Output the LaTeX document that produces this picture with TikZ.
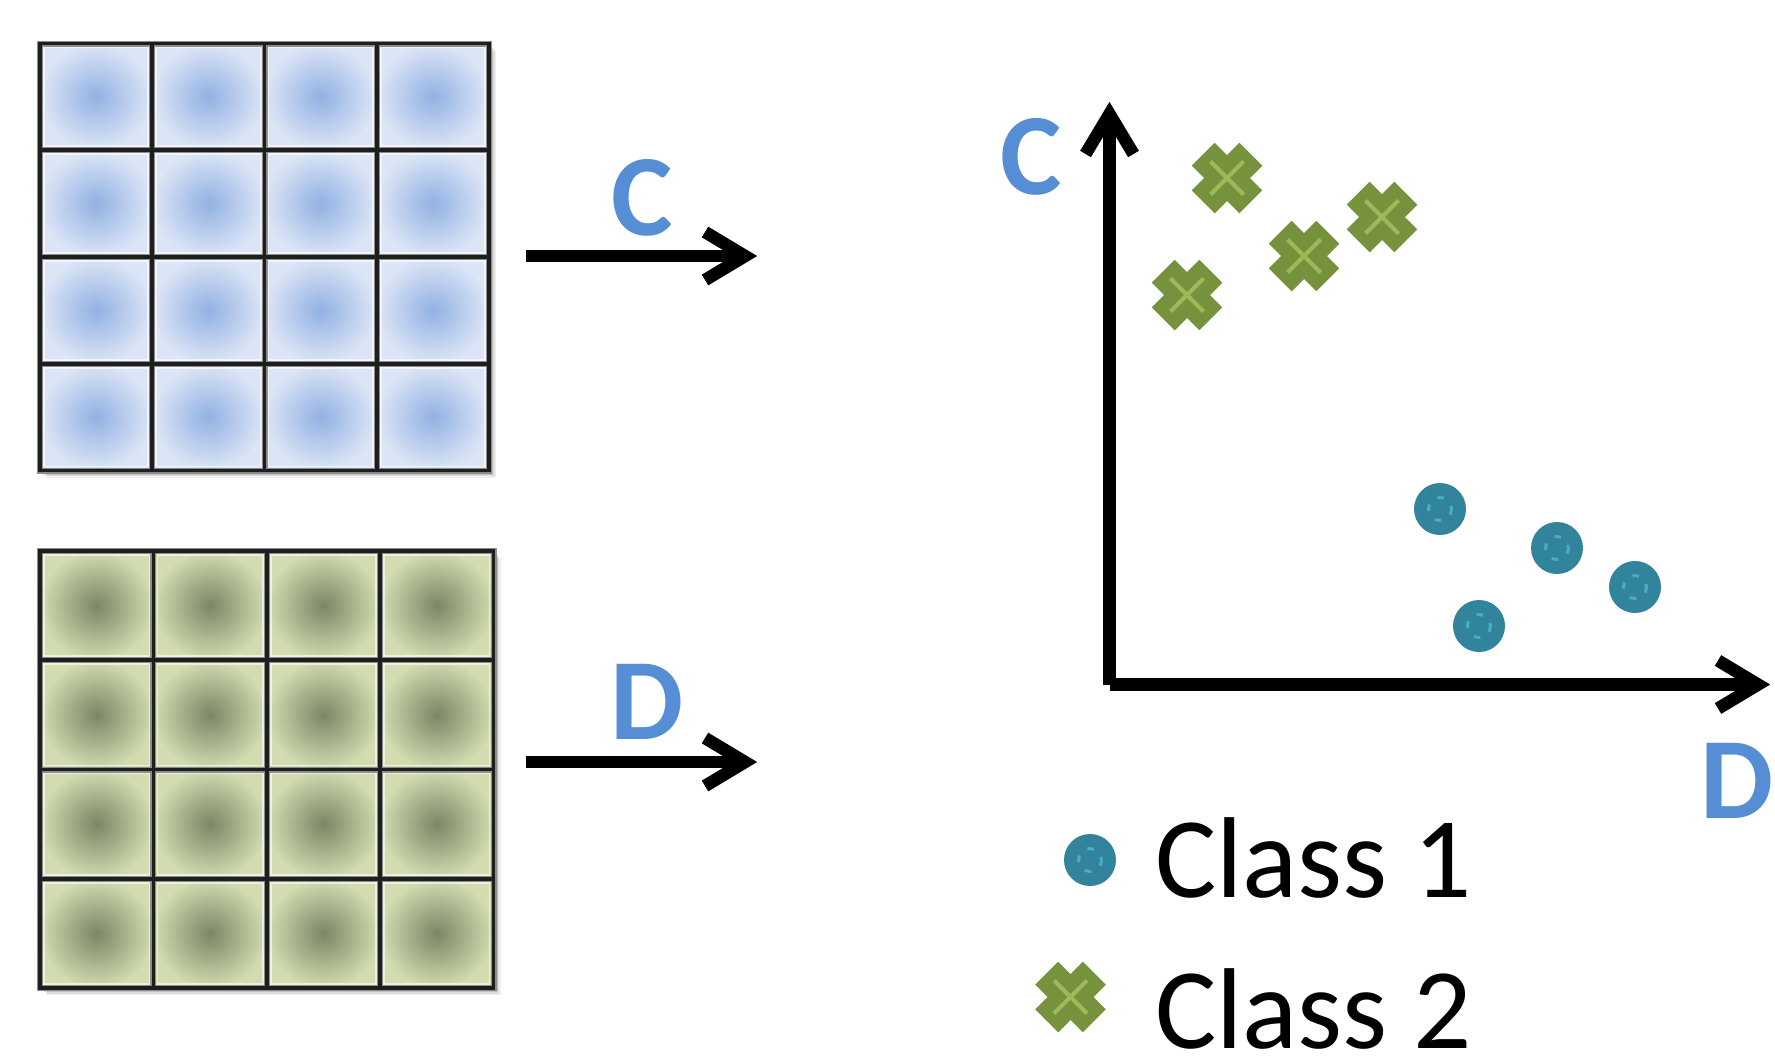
\documentclass[tikz,border=0pt]{standalone}
\usepackage{fontspec}
\setmainfont{Carlito}
\usetikzlibrary{calc}

\definecolor{cellblueC}{HTML}{92B1E2}
\definecolor{cellblueE}{HTML}{DCE5F6}
\definecolor{cellgreenC}{HTML}{7A8666}
\definecolor{cellgreenE}{HTML}{D2DCB0}
\definecolor{labelblue}{HTML}{558ED5}
\definecolor{crossdark}{HTML}{76923C}
\definecolor{crosslight}{HTML}{9BBB59}
\definecolor{dotdark}{HTML}{31849B}
\definecolor{dotlight}{HTML}{4BACC6}
\definecolor{gridline}{HTML}{1E1E1E}

\tikzset{
  axlabel/.style={inner sep=0pt, text=labelblue,
    font=\fontsize{116}{120}\selectfont\bfseries},
  legtext/.style={inner sep=0pt, anchor=base west,
    font=\fontsize{115}{120}\selectfont},
  shaft/.style={line width=12.5pt, line cap=butt},
  barb/.style={line width=12.5pt, line cap=butt, line join=miter},
  cellline/.style={gridline, line width=3.6pt},
  cellhalo/.style={black!45, line width=6pt},
  classtwo/.pic={
    \draw[crossdark, line width=32.5pt] (-23.8,-23.8) -- (23.8,23.8);
    \draw[crossdark, line width=32.5pt] (-23.8,23.8) -- (23.8,-23.8);
    \draw[crosslight, line width=4pt] (-16.5,-16.5) -- (16.5,16.5);
    \draw[crosslight, line width=4pt] (-16.5,16.5) -- (16.5,-16.5);
  },
  classone/.pic={
    \fill[dotdark] (0,0) circle[radius=26pt];
    \draw[dotlight, line width=3pt, dash pattern=on 6.5pt off 10.78pt,
          dash phase=3.25pt] (0,0) circle[radius=11.5pt];
  }
}

% one 4x4 shaded grid: #1 left, #2 top, #3 cell width, #4 cell height,
% #5 centre colour, #6 edge colour
\newcommand{\cellgrid}[6]{%
  % soft drop shadow
  \foreach \o/\a in {7/0.06,5.5/0.08,4/0.12}{
    \fill[black, opacity=\a] (#1+\o,#2+\o) rectangle ++(4*#3,4*#4);
  }
  \foreach \i in {0,...,3}{
    \foreach \j in {0,...,3}{
      \shade[inner color=#5, outer color=#6]
        (#1+\i*#3, #2+\j*#4) rectangle ++(#3,#4);
      \draw[white, opacity=.6, line width=1.6pt]
        (#1+\i*#3+4, #2+\j*#4+4) rectangle ++(#3-8,#4-8);
    }
  }
  \foreach \k in {1,2,3}{
    \draw[cellhalo] (#1+\k*#3, #2) -- ++(0,4*#4);
    \draw[cellhalo] (#1, #2+\k*#4) -- ++(4*#3,0);
  }
  \draw[cellhalo] (#1,#2) rectangle ++(4*#3,4*#4);
  \foreach \k in {1,2,3}{
    \draw[cellline] (#1+\k*#3, #2) -- ++(0,4*#4);
    \draw[cellline] (#1, #2+\k*#4) -- ++(4*#3,0);
  }
  \draw[cellline] (#1,#2) rectangle ++(4*#3,4*#4);
}

\begin{document}
\begin{tikzpicture}[x=1pt, y=-1pt]
  \path[use as bounding box, fill=white] (0,0) rectangle (1775,1061);

  % input maps
  \cellgrid{40}{43.5}{112.25}{106.75}{cellblueC}{cellblueE}
  \cellgrid{40}{551}{113.4}{109.25}{cellgreenC}{cellgreenE}

  % feature arrows
  \coordinate (cfrom) at (526,256);
  \coordinate (cto) at (745,256);
  \coordinate (dfrom) at (526,762);
  \coordinate (dto) at (745,762);
  \draw[shaft] (cfrom) -- (cto);
  \draw[barb] ($(cto)+(-40,-24)$) -- (cto) -- ($(cto)+(-40,24)$);
  \draw[shaft] (dfrom) -- (dto);
  \draw[barb] ($(dto)+(-40,-24)$) -- (dto) -- ($(dto)+(-40,24)$);
  \node[axlabel] (clab) at (642,197.5) {C};
  \node[axlabel] (dlab) at (647,702) {D};

  % feature space axes
  \coordinate (yfoot) at (1109.5,684.5);
  \coordinate (ytop) at (1109.5,114);
  \coordinate (xfoot) at (1109.5,684.5);
  \coordinate (xend) at (1758,684.5);
  \draw[shaft] (yfoot) -- (ytop);
  \draw[barb] ($(ytop)+(-24,40)$) -- (ytop) -- ($(ytop)+(24,40)$);
  \draw[shaft] (xfoot) -- (xend);
  \draw[barb] ($(xend)+(-40,-24)$) -- (xend) -- ($(xend)+(-40,24)$);
  \node[axlabel] (cax) at (1031.5,156.5) {C};
  \node[axlabel] (dax) at (1737.5,780.5) {D};

  % class 2 samples
  \pic at (1227,178) {classtwo};
  \pic at (1304,256) {classtwo};
  \pic at (1382,217) {classtwo};
  \pic at (1187,295) {classtwo};

  % class 1 samples
  \pic at (1440,509) {classone};
  \pic at (1557,548) {classone};
  \pic at (1635,587) {classone};
  \pic at (1479,626) {classone};

  % legend
  \pic at (1090,860) {classone};
  \pic at (1070.5,997) {classtwo};
  \node[legtext] (leg1) at (1155,897) {Class 1};
  \node[legtext] (leg2) at (1155,1048) {Class 2};
\end{tikzpicture}
\end{document}
